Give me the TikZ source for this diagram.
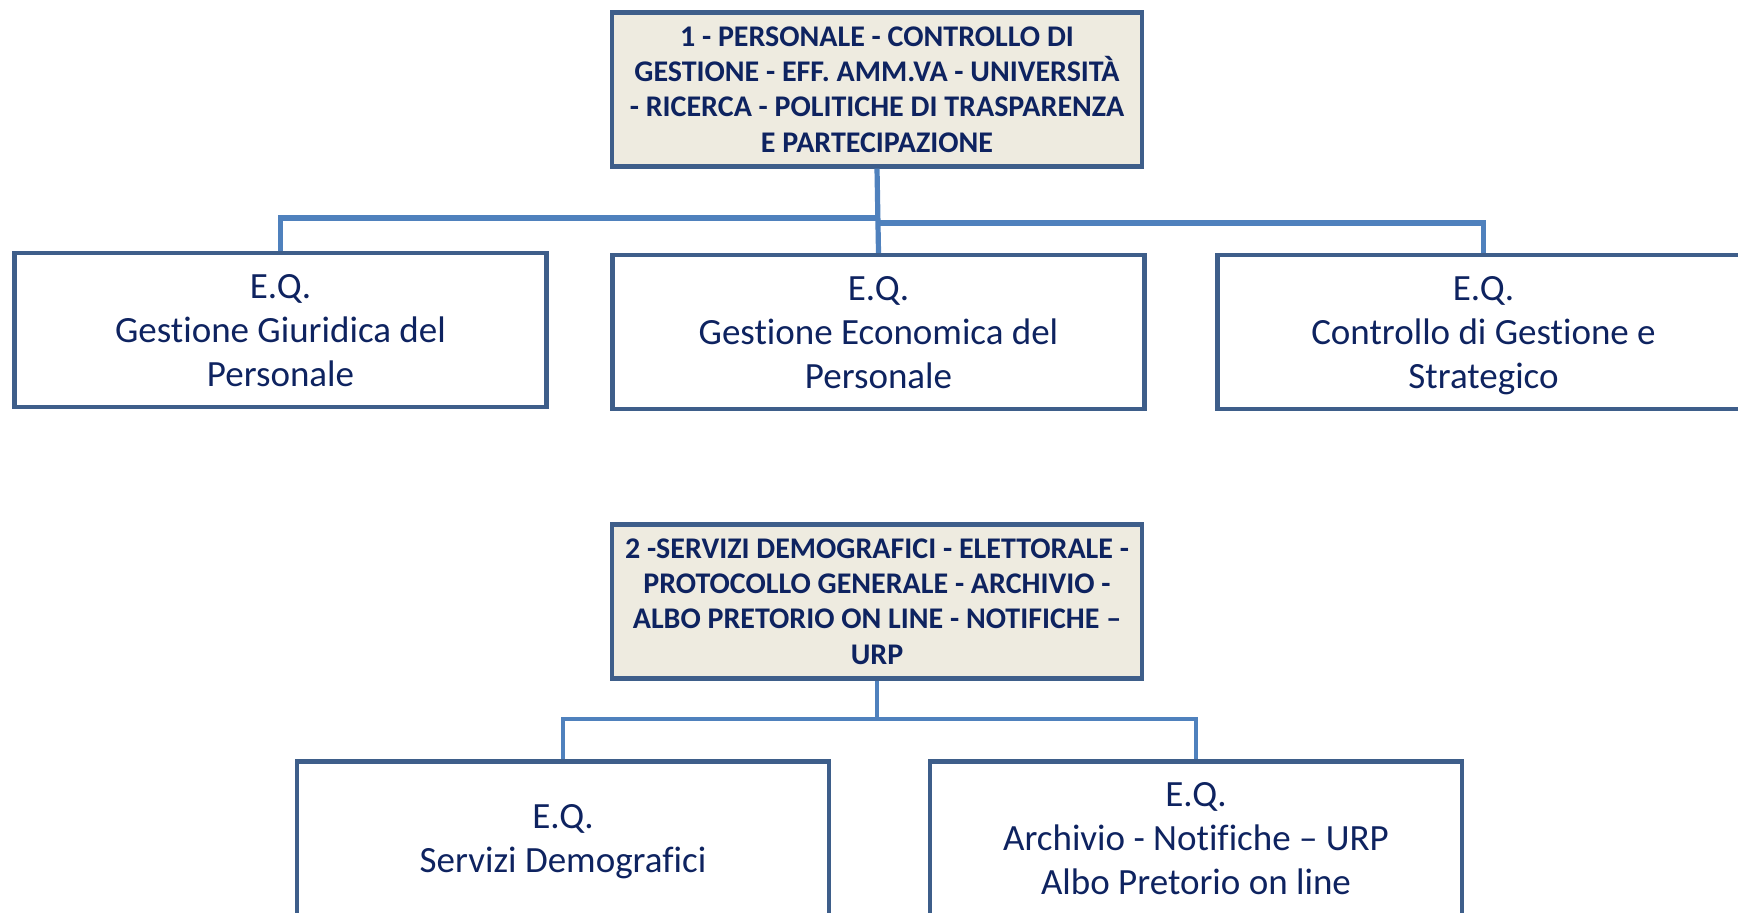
\documentclass[tikz,border=0pt]{standalone}
\usepackage{fontspec}
\setmainfont[Ligatures=NoCommon]{Carlito}
\usepackage{tikz}
\usepackage{xcolor}

\definecolor{navytext}{RGB}{14,35,96}
\definecolor{boxline}{RGB}{62,94,138}
\definecolor{headfill}{RGB}{238,235,224}
\definecolor{linkblue}{RGB}{79,129,189}

\tikzset{
  headbox/.style={draw=boxline,line width=2.1pt,fill=headfill,text=navytext,
    font=\bfseries\fontsize{15}{17.6}\selectfont,align=center,
    minimum width=265pt,minimum height=77pt,inner sep=0pt},
  eqbox/.style={draw=boxline,line width=2.1pt,fill=white,text=navytext,
    font=\fontsize{18.5}{22}\selectfont,align=center,
    minimum width=266pt,minimum height=77pt,inner sep=0pt,text depth=0pt},
  link/.style={draw=linkblue,line width=2.6pt},
  linkthin/.style={draw=linkblue,line width=1.6pt}
}

\begin{document}
\begin{tikzpicture}[x=0.5pt,y=-0.5pt]
        \useasboundingbox (0,0) rectangle (1738,912);
        \node[headbox] (hd1) at (877,89.5) {1 - PERSONALE - CONTROLLO DI\\GESTIONE - EFF. AMM.VA - UNIVERSIT\`A\\- RICERCA - POLITICHE DI TRASPARENZA\\E PARTECIPAZIONE};
        \node[eqbox] (eqGiur) at (280.5,330) {E.Q.\\Gestione Giuridica del\\Personale};
        \node[eqbox] (eqEcon) at (878.5,332) {E.Q.\\Gestione Economica del\\Personale};
        \node[eqbox] (eqCtrl) at (1483.5,332) {E.Q.\\Controllo di Gestione e\\Strategico};
        \coordinate (jl) at (878,218);
        \coordinate (jr) at (878,223);
        \draw[link] (hd1.south) -- (eqEcon.north);
        \draw[link] (jl) -| (eqGiur.north);
        \draw[link] (jr) -| (eqCtrl.north);
        \node[headbox] (hd2) at (877,601.5) {2 -SERVIZI DEMOGRAFICI - ELETTORALE -\\PROTOCOLLO GENERALE - ARCHIVIO -\\ALBO PRETORIO ON LINE - NOTIFICHE --\\URP};
        \node[eqbox] (eqDemo) at (563,838.5) {E.Q.\\Servizi Demografici};
        \node[eqbox] (eqArch) at (1196,838.5) {E.Q.\\Archivio - Notifiche -- URP\\Albo Pretorio on line};
        \coordinate (jb) at (877,719);
        \draw[linkthin] (hd2.south) -- (jb);
        \draw[linkthin] (jb) -| (eqDemo.north);
        \draw[linkthin] (jb) -| (eqArch.north);
    \end{tikzpicture}
\end{document}
